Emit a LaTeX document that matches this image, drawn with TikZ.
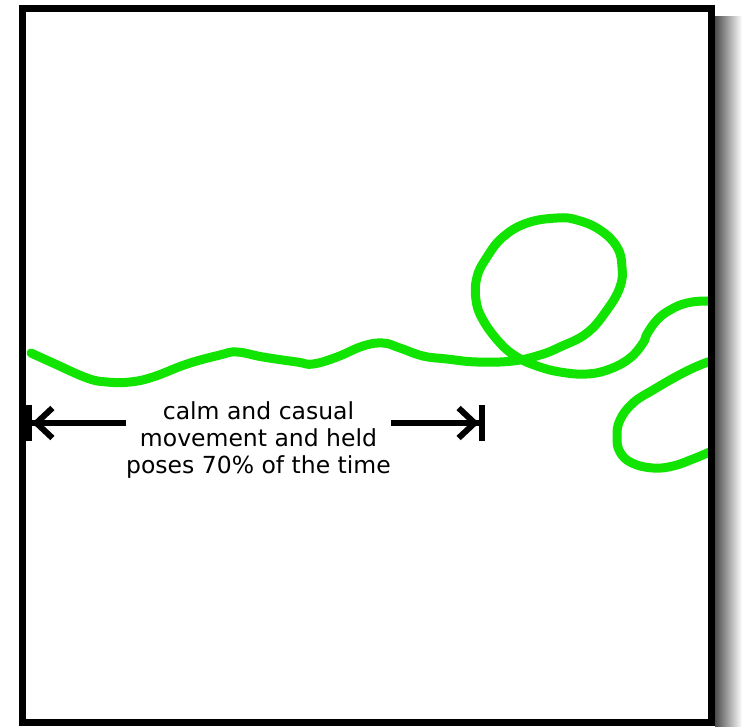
\documentclass[tikz,border=0pt]{standalone}
\usepackage{fontspec}
\setmainfont{DejaVu Sans}
\usetikzlibrary{arrows.meta, positioning}

\definecolor{motiongreen}{RGB}{16,228,0}

\begin{document}
\begin{tikzpicture}[x=1pt, y=-1pt,
  motion/.style={motiongreen, line width=9pt, line cap=round, line join=round},
  spanarrow/.style={line width=6pt, -{Straight Barb[length=16pt,width=30pt,sep=0pt]Bar[width=36pt,sep=0pt]}}]
\useasboundingbox (0,0) rectangle (742,726);
% drop shadow
\shade[left color=black!70, right color=white] (715,16) rectangle (742,726);
% motion path
\begin{scope}
\clip (26,12) rectangle (710,718);
\draw[motion] plot[smooth, tension=0.7] coordinates {(31,353) (53,363) (87,378) (107,382) (130,382) (153,377) (187,364) (220,355) (237,352) (263,357) (297,362) (313,364) (337,357) (363,346) (383,343) (400,348) (423,356) (447,359) (477,362) (513,361) (540,355) (560,347) (587,333) (607,310) (620,287) (622,267) (617,247) (600,230) (577,220) (557,218) (527,223) (503,237) (487,257) (477,277) (476,300) (483,320) (500,343) (517,357) (537,366) (560,372) (587,374) (610,369) (630,358) (643,343) (647,334) (657,320) (670,310) (687,303) (708,301) (728,303) (740,330) (728,357) (708,362) (683,373) (653,390) (633,403) (620,420) (617,437) (620,452) (632,463) (653,468) (673,466) (693,459) (712,451) (730,443)};
\end{scope}
% frame
\draw[line width=7pt] (22.5,8.5) rectangle (711.5,722.5);
% label and span arrows
\node[align=center, font=\fontsize{23.5}{27}\selectfont, inner sep=0pt, anchor=north] (note) at (258.5,401)
  {calm and casual\\movement and held\\poses 70\% of the time};
\coordinate (spanL) at (26,423);
\coordinate (spanR) at (485,423);
\draw[spanarrow] (note.west |- spanL) -- (spanL);
\draw[spanarrow] (note.east |- spanR) -- (spanR);
\end{tikzpicture}
\end{document}
